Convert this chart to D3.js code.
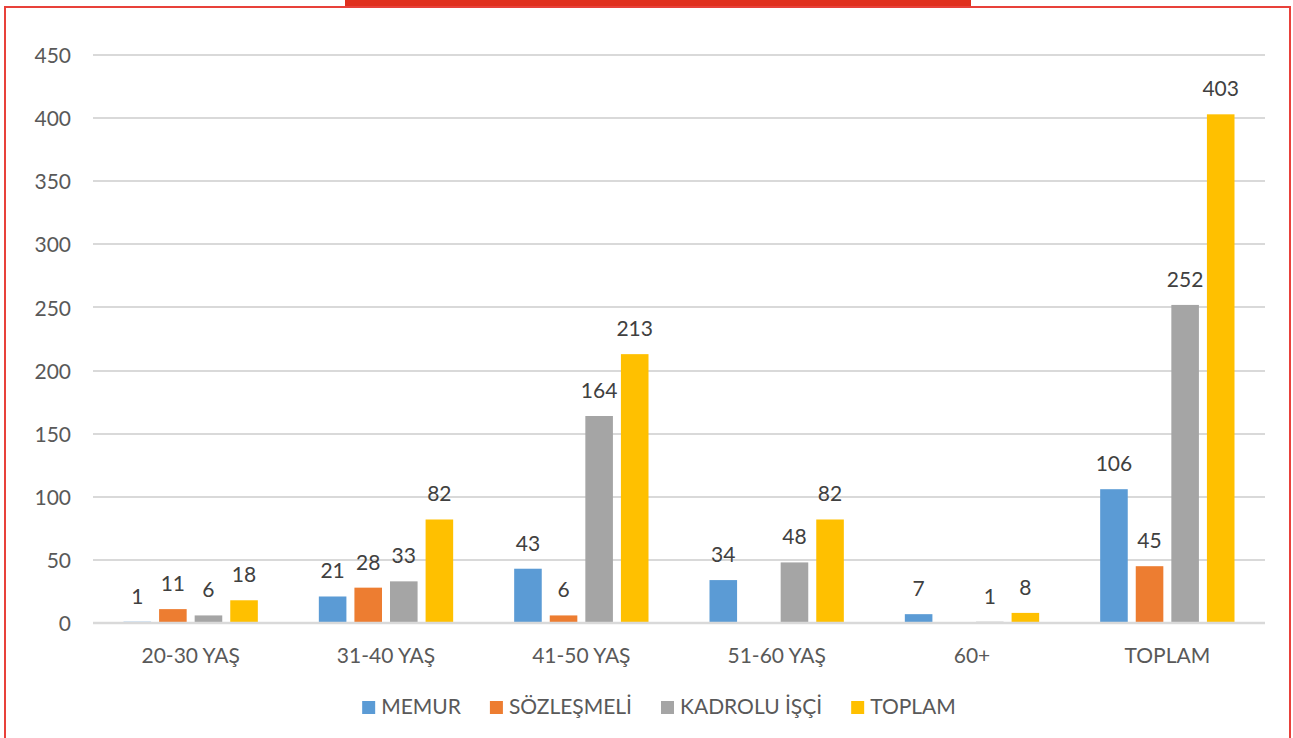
<!DOCTYPE html>
<meta charset="utf-8">
<style>
html, body { margin: 0; padding: 0; background: #fff; }
svg text { font-family: Lato, "Open Sans", sans-serif; }
.grid line { stroke: #d9d9d9; stroke-width: 1.5; shape-rendering: crispEdges; }
.axis-y text { fill: #595959; font-size: 21px; }
.axis-x text { fill: #595959; font-size: 21px; }
.val { fill: #404040; font-size: 21px; }
.legend text { fill: #595959; font-size: 21px; }
</style>
<body></body>
<script src="https://d3js.org/d3.v7.min.js"></script>
<script>
// data
var categories = ["20-30 YAŞ", "31-40 YAŞ", "41-50 YAŞ", "51-60 YAŞ", "60+", "TOPLAM"];
var seriesNames = ["MEMUR", "SÖZLEŞMELİ", "KADROLU İŞÇİ", "TOPLAM"];
var memur    = [1, 21, 43, 34, 7, 106];
var sozlesme = [11, 28, 6, null, null, 45];
var kadrolu  = [6, 33, 164, 48, 1, 252];
var toplam   = [18, 82, 213, 82, 8, 403];
var yTicks = [0, 50, 100, 150, 200, 250, 300, 350, 400, 450];
var colors = ["#5b9bd5", "#ed7d31", "#a5a5a5", "#ffc000"];

var seriesValues = [memur, sozlesme, kadrolu, toplam];

var W = 1293, H = 738;
var plot = {left: 93, right: 1265, top: 55, bottom: 623};

var svg = d3.select("body").append("svg")
    .attr("width", W).attr("height", H);

// frame
svg.append("rect")
    .attr("x", 345).attr("y", 0).attr("width", 626).attr("height", 7)
    .attr("fill", "#e0301e");
svg.append("path")
    .attr("d", "M5," + H + "V7H1290V" + H)
    .attr("fill", "none").attr("stroke", "#e8413a").attr("stroke-width", 2);

var x0 = d3.scaleBand()
    .domain(categories)
    .range([plot.left, plot.right])
    .paddingInner(0).paddingOuter(0);

var x1 = d3.scaleBand()
    .domain(seriesNames)
    .range([30.5, x0.bandwidth() - 30.5])
    .paddingInner(0.225);

var y = d3.scaleLinear()
    .domain([0, 450])
    .range([plot.bottom, plot.top]);

// gridlines
svg.append("g")
    .attr("class", "grid")
    .selectAll("line")
    .data(yTicks.filter(function(d) { return d > 0; }))
    .join("line")
    .attr("x1", plot.left).attr("x2", plot.right)
    .attr("y1", function(d) { return Math.round(y(d)); })
    .attr("y2", function(d) { return Math.round(y(d)); });

// y axis labels
svg.append("g")
    .attr("class", "axis-y")
    .attr("transform", "translate(71,0)")
    .call(d3.axisLeft(y).tickValues(yTicks).tickSize(0).tickPadding(0))
    .call(function(g) { g.select(".domain").remove(); })
    .selectAll("text").attr("dy", "0.36em");

// x axis labels
svg.append("g")
    .attr("class", "axis-x")
    .attr("transform", "translate(0," + plot.bottom + ")")
    .call(d3.axisBottom(x0).tickSize(0).tickPadding(25))
    .call(function(g) { g.select(".domain").remove(); });

// bars
var rows = [];
categories.forEach(function(c, i) {
    seriesNames.forEach(function(s, j) {
        var v = seriesValues[j][i];
        if (v != null) rows.push({cat: c, series: s, idx: j, value: v});
    });
});

var bars = svg.append("g");
bars.selectAll("rect")
    .data(rows)
    .join("rect")
    .attr("x", function(d) { return x0(d.cat) + x1(d.series); })
    .attr("width", x1.bandwidth())
    .attr("y", function(d) { return y(d.value); })
    .attr("height", function(d) { return y(0) - y(d.value); })
    .attr("fill", function(d) { return colors[d.idx]; });

bars.selectAll("text")
    .data(rows)
    .join("text")
    .attr("class", "val")
    .attr("text-anchor", "middle")
    .attr("x", function(d) { return x0(d.cat) + x1(d.series) + x1.bandwidth() / 2; })
    .attr("y", function(d) { return y(d.value) - 18; })
    .text(function(d) { return d.value; });

// zero axis line drawn over the bars
svg.append("line")
    .attr("x1", plot.left).attr("x2", plot.right)
    .attr("y1", y(0)).attr("y2", y(0))
    .attr("stroke", "#d9d9d9").attr("stroke-width", 2.5);

// legend
var legend = svg.append("g").attr("class", "legend");
var items = legend.selectAll("g")
    .data(seriesNames)
    .join("g");
items.append("rect")
    .attr("width", 13).attr("height", 13)
    .attr("y", -13)
    .attr("fill", function(d, i) { return colors[i]; });
items.append("text")
    .attr("x", 19).attr("y", 0)
    .text(function(d) { return d; });

var xpos = 0;
items.each(function() {
    var g = d3.select(this);
    g.attr("transform", "translate(" + xpos + ",0)");
    xpos += 19 + g.select("text").node().getComputedTextLength() + 29;
});
var total = xpos - 29;
legend.attr("transform", "translate(" + (659 - total / 2) + ",714)");
</script>
